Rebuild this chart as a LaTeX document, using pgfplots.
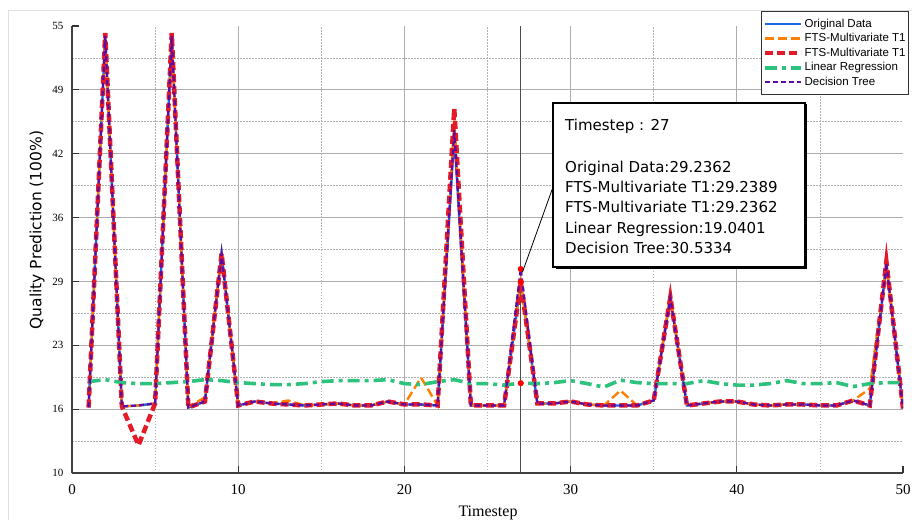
\documentclass[border=0pt]{standalone}
\usepackage{fontspec}
\setmainfont{Liberation Serif}
\newfontfamily\sansf{Liberation Sans}
\newfontfamily\dejavu{DejaVu Sans}
\usepackage{pgfplots}
\usepackage{pgfplotstable}
\pgfplotsset{compat=1.18}

\definecolor{cOrig}{RGB}{25,105,225}
\definecolor{cTone}{RGB}{255,128,0}
\definecolor{cTtwo}{RGB}{228,26,40}
\definecolor{cLR}{RGB}{45,195,125}
\definecolor{cDT}{RGB}{95,10,160}

\pgfplotstableread{
t orig t1 t2 lr dt
1 16.6 16.6 16.6 19.2 16.6
2 54.0 53.9 54.3 19.4 54.0
3 16.7 16.7 16.7 19.1 16.7
4 16.8 16.8 12.8 19.0 16.8
5 17.0 17.0 17.0 19.0 17.0
6 54.0 53.9 54.3 19.1 54.0
7 16.6 16.7 16.6 19.2 16.6
8 17.2 17.6 17.2 19.4 17.2
9 32.1 32.1 32.1 19.3 32.1
10 16.8 16.8 16.8 19.1 16.8
11 17.2 17.2 17.2 19.0 17.2
12 17.0 17.0 17.0 18.9 17.0
13 16.9 17.3 16.9 18.9 16.9
14 16.8 16.8 16.8 19.0 16.8
15 16.9 16.9 16.9 19.2 16.9
16 17.0 17.0 17.0 19.3 17.0
17 16.8 16.8 16.8 19.3 16.8
18 16.8 16.8 16.8 19.3 16.8
19 17.2 17.2 17.2 19.4 17.2
20 16.9 16.9 16.9 19.0 16.9
21 16.9 19.6 16.9 18.9 16.9
22 16.8 16.8 16.8 19.2 16.8
23 44.0 45.5 46.7 19.4 44.5
24 16.8 16.8 16.8 19.0 16.8
25 16.8 16.8 16.8 19.0 16.8
26 16.8 16.8 16.8 18.85 16.8
27 29.2362 29.2389 29.2362 19.0401 30.5334
28 17.0 17.0 17.0 19.0 17.0
29 17.0 17.0 17.0 19.1 17.0
30 17.2 17.2 17.2 19.3 17.2
31 16.9 16.9 16.9 19.0 16.9
32 16.8 16.8 16.8 18.65 16.8
33 16.8 18.3 16.8 19.35 16.8
34 16.8 16.8 16.8 19.1 16.8
35 17.3 17.3 17.3 19.0 17.3
36 27.6 27.9 27.7 19.0 27.6
37 16.8 16.8 16.8 19.0 16.8
38 17.0 17.0 17.0 19.3 17.0
39 17.2 17.2 17.2 19.0 17.2
40 17.2 17.2 17.2 18.85 17.2
41 16.9 16.9 16.9 18.85 16.9
42 16.8 16.8 16.8 19.0 16.8
43 16.9 16.9 16.9 19.3 16.9
44 16.9 16.9 16.9 19.0 16.9
45 16.8 16.8 16.8 19.0 16.8
46 16.8 16.8 16.8 19.1 16.8
47 17.3 17.3 17.3 18.7 17.3
48 16.8 18.5 16.8 19.0 16.8
49 31.0 31.2 31.3 19.1 31.1
50 16.5 16.5 16.5 19.1 16.5
}\datatable

\begin{document}
\begin{tikzpicture}[x=1pt,y=1pt]
\useasboundingbox (0,0) rectangle (912,520);
\fill[white] (0,0) rectangle (912,520);
\draw[black!12, line width=0.8pt] (8,0) -- (8,510) -- (912,510);
\begin{axis}[
  at={(72pt,47pt)}, anchor=south west,
  width=831pt, height=447pt, scale only axis,
  xmin=0, xmax=50, ymin=10, ymax=55,
  axis x line*=bottom, axis y line*=left,
  axis line style={black!75, line width=1.3pt},
  every tick/.style={black!80, line width=1.2pt},
  tick align=inside, major tick length=7pt, minor tick length=0pt,
  xtick={0,10,20,30,40}, minor xtick={5,15,25,35,45},
  extra x ticks={50}, extra x tick style={grid=none},
  ytick={10,16.428571,22.857143,29.285714,35.714286,42.142857,48.571429},
  yticklabels={10,16,23,29,36,42,49},
  minor ytick={13.214286,19.642857,26.071429,32.5,38.928571,45.357143,51.785714},
  extra y ticks={55}, extra y tick labels={55}, extra y tick style={grid=none},
  grid=both,
  major grid style={black!32, line width=0.9pt},
  minor grid style={black!30, line width=0.7pt, dash pattern=on 1.5pt off 1.5pt},
  /pgf/number format/assume math mode=true,
  xticklabel style={font=\fontsize{15}{15}\selectfont, anchor=base, yshift=-21pt},
  yticklabel style={font=\fontsize{11}{11}\selectfont, anchor=east, xshift=-5pt},
  xlabel={Timestep},
  xlabel style={font=\fontsize{16}{16}\selectfont, at={(axis description cs:0.5006,-0.098)}, anchor=base},
  ylabel={Quality Prediction (100\%)},
  ylabel style={font=\dejavu\fontsize{15.5}{16}\selectfont, at={(axis description cs:-0.042,0.5436)}, anchor=center},
  legend image code/.code={\draw[#1] (0pt,0pt) -- (36pt,0pt);},
  legend style={at={(axis description cs:0.8291,1.0325)}, anchor=north west,
    draw=black!80, fill=white,
    font=\sansf\fontsize{11.5}{12}\selectfont,
    inner xsep=2pt, inner ysep=5pt, row sep=0pt,
    nodes={inner ysep=1.6pt, inner xsep=1pt, text height=8.8pt, text depth=2.6pt},
    cells={anchor=west}},
]
\draw[black!70, line width=1.2pt] (axis cs:27,10) -- (axis cs:27,55);
\addplot[cOrig, line width=2.4pt] table[x=t,y=orig] {\datatable};
\addlegendentry{Original Data}
\addplot[cTone, line width=2.4pt, dash pattern=on 9pt off 4pt] table[x=t,y=t1] {\datatable};
\addlegendentry{FTS-Multivariate T1}
\addplot[cTtwo, line width=4.5pt, dash pattern=on 8pt off 4pt] table[x=t,y=t2] {\datatable};
\addlegendentry{FTS-Multivariate T1}
\addplot[cLR, line width=3.6pt, dash pattern=on 12pt off 5pt on 4pt off 5pt] table[x=t,y=lr] {\datatable};
\addlegendentry{Linear Regression}
\addplot[cDT, line width=2.2pt, dash pattern=on 5pt off 3pt] table[x=t,y=dt] {\datatable};
\addlegendentry{Decision Tree}
\addplot[only marks, mark=*, mark size=2.8pt, color=red, forget plot] coordinates {(27,30.5334) (27,29.2389) (27,19.0401)};
\coordinate (tip) at (axis cs:27.1,30.2);
\end{axis}
\fill[black] (555.5,251.5) rectangle (806.5,415.5);
\draw[black, line width=1.3pt, fill=white] (553,253) rectangle (805,417);
\begin{scope}[every node/.style={anchor=base west, inner sep=0pt, font=\dejavu\fontsize{15}{18}\selectfont}]
\node at (565,389) {Timestep : 27};
\node at (565,347) {Original Data:29.2362};
\node at (565,327) {FTS-Multivariate T1:29.2389};
\node at (565,307) {FTS-Multivariate T1:29.2362};
\node at (565,286) {Linear Regression:19.0401};
\node at (565,266) {Decision Tree:30.5334};
\end{scope}
\draw[black, line width=0.8pt] (553,333) -- (tip);
\end{tikzpicture}
\end{document}
